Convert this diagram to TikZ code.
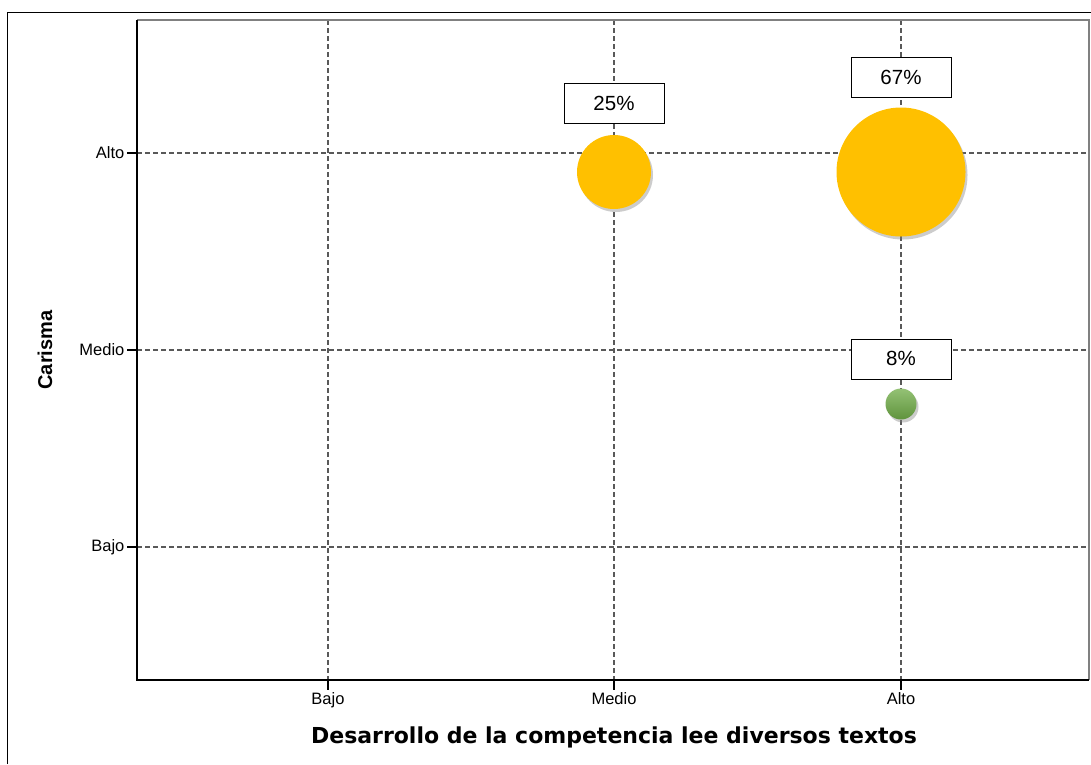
\documentclass[tikz,border=0pt]{standalone}
\usepackage{fontspec}
\setmainfont{Liberation Sans}
\newfontfamily\titulofont{DejaVu Sans}
\usetikzlibrary{positioning,shadows}
\definecolor{amarillo}{HTML}{FFC000}
\definecolor{verde}{HTML}{70AD47}
\tikzset{
	rejilla/.style={gray!70!black, line width=1.2pt, dash pattern=on 5pt off 3pt},
	burbuja/.style={circle, inner sep=0pt, drop shadow={shadow xshift=2pt, shadow yshift=-3pt, opacity=0.4}},
	etiqueta/.style={draw, fill=white, line width=0.8pt, minimum width=100pt, minimum height=40pt, inner sep=0pt, font=\fontsize{20.5}{24}\selectfont},
	marca/.style={font=\fontsize{16.5}{18}\selectfont}
}
\begin{document}
\begin{tikzpicture}[x=1pt, y=-1pt]
		\useasboundingbox (0,0) rectangle (1091,764);
		\draw[line width=0.9pt] (7,764) -- (7,12) -- (1091,12);
		\foreach \x in {328,614,901} \draw[rejilla] (\x,20) -- (\x,680);
		\foreach \y in {153,350,547} \draw[rejilla] (137,\y) -- (1089,\y);
		\draw[gray, line width=1.5pt] (137,20) -- (1089,20) -- (1089,680);
		\draw[line width=1.2pt] (137,20) -- (137,680) -- (1089,680);
		\foreach \y/\t in {153/Alto,350/Medio,547/Bajo} \draw[line width=1.2pt] (137,\y) -- (127,\y) node[marca, left, inner sep=2pt] (y\t) {\t};
		\foreach \x/\t in {328/Bajo,614/Medio,901/Alto} \draw[line width=1.2pt] (\x,680) -- (\x,690) node[marca, below, inner sep=2pt] (x\t) {\t};
		\node[font=\titulofont\bfseries\fontsize{22}{26}\selectfont] (ejex) at (614,737) {Desarrollo de la competencia lee diversos textos};
		\node[font=\bfseries\fontsize{20}{24}\selectfont, rotate=90] (ejey) at (45,350) {Carisma};
		\node[burbuja, fill=amarillo, minimum size=74pt] (b25) at (614,172) {};
		\node[burbuja, fill=amarillo, minimum size=129pt] (b67) at (901,172) {};
		\node[burbuja, top color=verde!75!white, bottom color=verde!85!black, minimum size=31pt] (b8) at (901,404) {};
		\node[etiqueta, above=11pt of b25] (l25) {25\%};
		\node[etiqueta, above=9.5pt of b67, text depth=-4pt] (l67) {67\%};
		\node[etiqueta, above=9pt of b8] (l8) {8\%};
	\end{tikzpicture}
\end{document}
